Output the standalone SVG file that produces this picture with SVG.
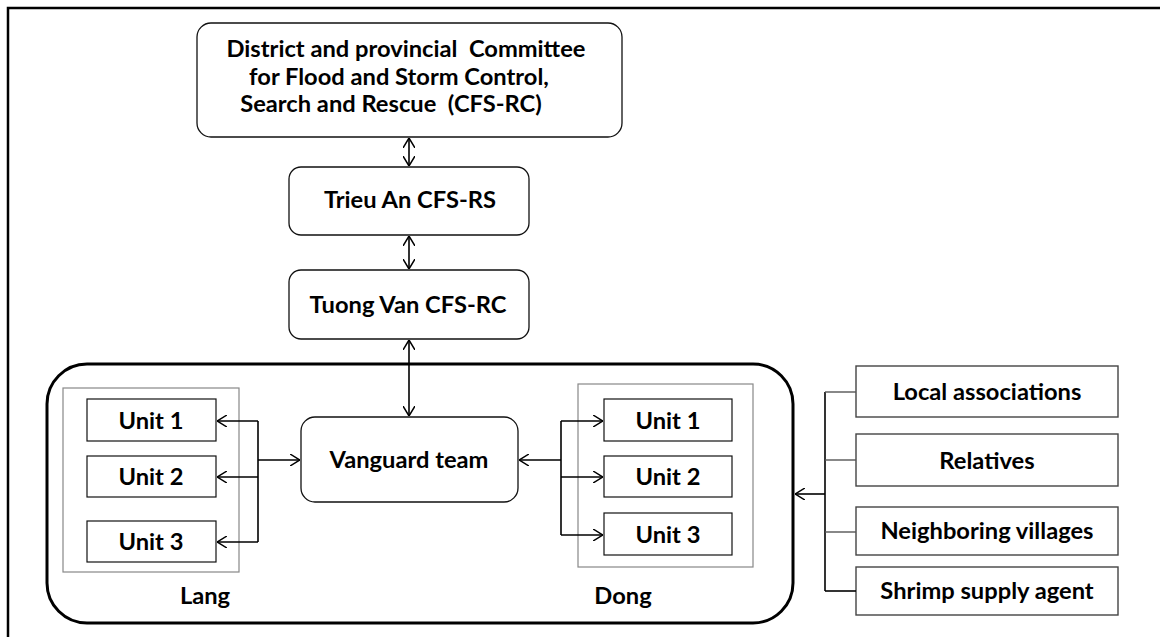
<svg xmlns="http://www.w3.org/2000/svg" width="1160" height="637" viewBox="0 0 1160 637">
  <style>
    .t { font-family: Lato, "Liberation Sans", sans-serif; font-weight: 700; font-size: 23.7px; fill: #000; text-anchor: middle; white-space: pre; }
    .rbox { fill: #fff; stroke: #111; stroke-width: 1.3; }
    .ubox { fill: #fff; stroke: #111; stroke-width: 1.2; }
    .grp { fill: none; stroke: #888; stroke-width: 1.2; }
    .sbox { fill: #fff; stroke: #444; stroke-width: 1.4; }
    .ln { fill: none; stroke: #000; stroke-width: 1.6; }
    .tick { fill: none; stroke: #555; stroke-width: 1.4; }
  </style>
  <defs>
    <marker id="arr" viewBox="0 0 10 12" refX="10" refY="6" markerWidth="10" markerHeight="12" markerUnits="userSpaceOnUse" orient="auto-start-reverse">
      <path d="M0,0 L10,6 L0,12" fill="none" stroke="#000" stroke-width="1.5"/>
    </marker>
  </defs>

  <rect width="1160" height="637" fill="#fff"/>
  <!-- page frame -->
  <rect x="8" y="8" width="1300" height="800" fill="none" stroke="#000" stroke-width="2.5"/>

  <!-- community container -->
  <rect id="community" x="47" y="364" width="746" height="259" rx="40" ry="40" fill="none" stroke="#000" stroke-width="3"/>

  <g id="district-committee">
    <rect class="rbox" x="197" y="23" width="425" height="114" rx="14"/>
    <text class="t" x="406" y="57" xml:space="preserve">District and provincial  Committee</text>
    <text class="t" x="399" y="85">for Flood and Storm Control,</text>
    <text class="t" x="391" y="112" xml:space="preserve">Search and Rescue  (CFS-RC)</text>
  </g>

  <g id="trieu-an">
    <rect class="rbox" x="289" y="167" width="240" height="68" rx="12"/>
    <text class="t" x="410" y="208">Trieu An CFS-RS</text>
  </g>

  <g id="tuong-van">
    <rect class="rbox" x="289" y="270" width="240" height="69" rx="12"/>
    <text class="t" x="408" y="313">Tuong Van CFS-RC</text>
  </g>

  <g id="vanguard">
    <rect class="rbox" x="301" y="417" width="217" height="85" rx="14"/>
    <text class="t" x="409" y="468">Vanguard team</text>
  </g>

  <g id="lang">
    <rect class="grp" x="63" y="388" width="176" height="184"/>
    <text class="t" x="205" y="604">Lang</text>
  </g>
  <g id="lang-unit-1">
    <rect class="ubox" x="87" y="399" width="129" height="42"/>
    <text class="t" x="151" y="429">Unit 1</text>
  </g>
  <g id="lang-unit-2">
    <rect class="ubox" x="87" y="456" width="129" height="41"/>
    <text class="t" x="151" y="485">Unit 2</text>
  </g>
  <g id="lang-unit-3">
    <rect class="ubox" x="87" y="521" width="129" height="41"/>
    <text class="t" x="151" y="550">Unit 3</text>
  </g>

  <g id="dong">
    <rect class="grp" x="578" y="384" width="175" height="183"/>
    <text class="t" x="623" y="604">Dong</text>
  </g>
  <g id="dong-unit-1">
    <rect class="ubox" x="604" y="399" width="128" height="42"/>
    <text class="t" x="668" y="429">Unit 1</text>
  </g>
  <g id="dong-unit-2">
    <rect class="ubox" x="604" y="456" width="128" height="41"/>
    <text class="t" x="668" y="485">Unit 2</text>
  </g>
  <g id="dong-unit-3">
    <rect class="ubox" x="604" y="513" width="128" height="42"/>
    <text class="t" x="668" y="543">Unit 3</text>
  </g>

  <g id="local-associations">
    <rect class="sbox" x="856" y="366" width="262" height="51"/>
    <text class="t" x="987" y="400">Local associations</text>
  </g>
  <g id="relatives">
    <rect class="sbox" x="856" y="434" width="262" height="52"/>
    <text class="t" x="987" y="469">Relatives</text>
  </g>
  <g id="neighboring-villages">
    <rect class="sbox" x="856" y="507" width="262" height="48"/>
    <text class="t" x="987" y="539">Neighboring villages</text>
  </g>
  <g id="shrimp-supply-agent">
    <rect class="sbox" x="856" y="567" width="262" height="48"/>
    <text class="t" x="987" y="599">Shrimp supply agent</text>
  </g>

  <g id="connectors">
    <!-- vertical chain -->
    <line class="ln" x1="409" y1="138" x2="409" y2="166" marker-start="url(#arr)" marker-end="url(#arr)"/>
    <line class="ln" x1="409" y1="236" x2="409" y2="269" marker-start="url(#arr)" marker-end="url(#arr)"/>
    <line class="ln" x1="409" y1="340" x2="409" y2="416" marker-start="url(#arr)" marker-end="url(#arr)"/>

    <!-- Lang units to vanguard -->
    <line class="ln" x1="258" y1="421" x2="258" y2="542"/>
    <line class="ln" x1="258" y1="421" x2="217" y2="421" marker-end="url(#arr)"/>
    <line class="ln" x1="258" y1="477" x2="217" y2="477" marker-end="url(#arr)"/>
    <line class="ln" x1="258" y1="542" x2="217" y2="542" marker-end="url(#arr)"/>
    <line class="ln" x1="258" y1="460" x2="300" y2="460" marker-end="url(#arr)"/>

    <!-- Dong units to vanguard -->
    <line class="ln" x1="561" y1="421" x2="561" y2="535"/>
    <line class="ln" x1="561" y1="421" x2="603" y2="421" marker-end="url(#arr)"/>
    <line class="ln" x1="561" y1="477" x2="603" y2="477" marker-end="url(#arr)"/>
    <line class="ln" x1="561" y1="535" x2="603" y2="535" marker-end="url(#arr)"/>
    <line class="ln" x1="561" y1="460" x2="519" y2="460" marker-end="url(#arr)"/>

    <!-- outside support -->
    <line class="ln" x1="825" y1="392" x2="825" y2="591"/>
    <line class="tick" x1="825" y1="392" x2="856" y2="392"/>
    <line class="tick" x1="825" y1="460" x2="856" y2="460"/>
    <line class="tick" x1="825" y1="532" x2="856" y2="532"/>
    <line class="ln" x1="825" y1="591" x2="856" y2="591"/>
    <line class="ln" x1="825" y1="494" x2="795" y2="494" marker-end="url(#arr)"/>
  </g>
</svg>
